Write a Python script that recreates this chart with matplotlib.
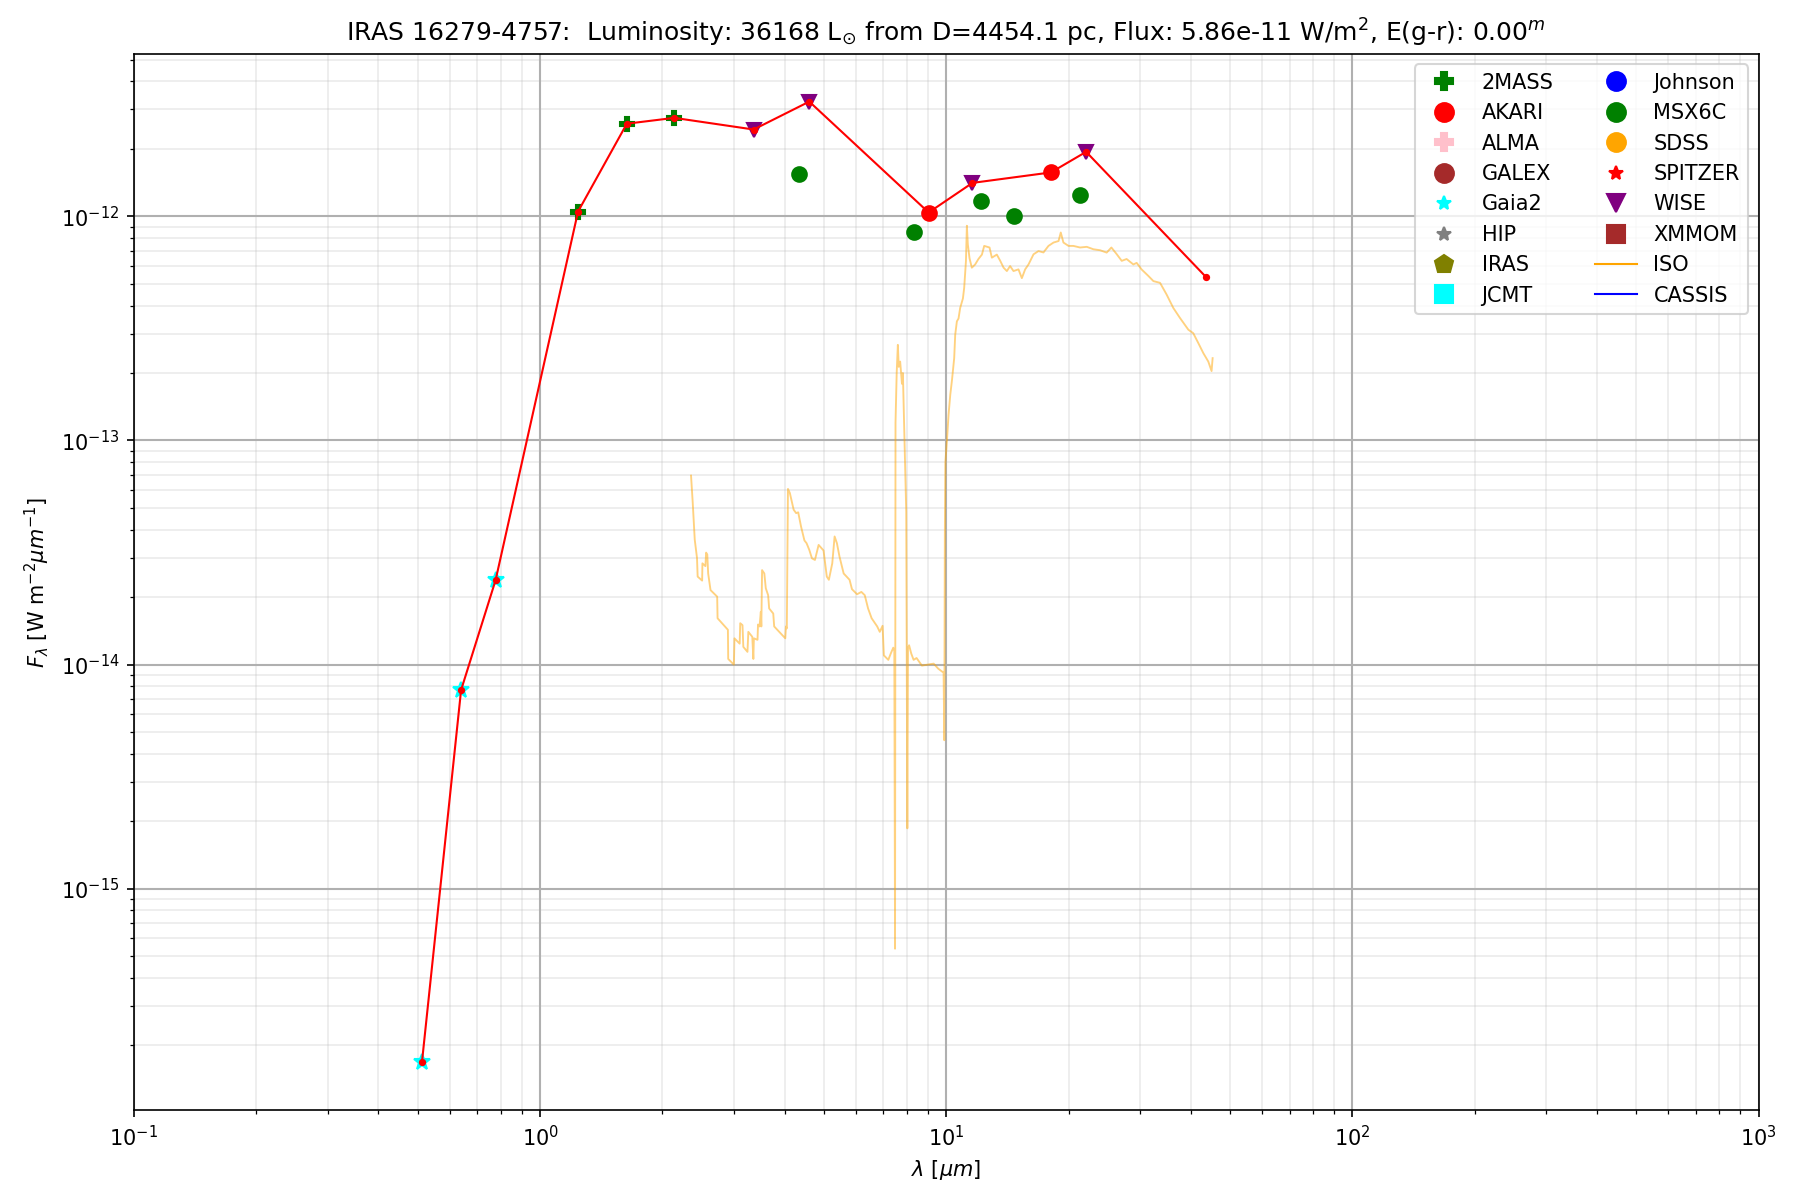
import matplotlib
matplotlib.use("Agg")
import matplotlib.pyplot as plt
from matplotlib.lines import Line2D

# ---------------- data ----------------
gaia_wave = [0.512, 0.639, 0.777]
gaia_flux = [1.69e-16, 7.7e-15, 2.38e-14]

tmass_wave = [1.24, 1.635, 2.14]
tmass_flux = [1.05e-12, 2.59e-12, 2.75e-12]

wise_wave = [3.355, 4.60, 11.6, 22.1]
wise_flux = [2.44e-12, 3.25e-12, 1.41e-12, 1.94e-12]

akari_wave = [9.05, 18.1]
akari_flux = [1.04e-12, 1.57e-12]

msx_wave = [4.33, 8.31, 12.15, 14.7, 21.4]
msx_flux = [1.55e-12, 8.5e-13, 1.17e-12, 1.0e-12, 1.24e-12]

sed_wave = [0.512, 0.639, 0.777, 1.24, 1.635, 2.14, 3.355, 4.60, 9.05, 11.6, 18.1, 22.1, 43.6]
sed_flux = [1.69e-16, 7.7e-15, 2.38e-14, 1.05e-12, 2.59e-12, 2.75e-12, 2.44e-12, 3.25e-12,
            1.04e-12, 1.41e-12, 1.57e-12, 1.94e-12, 5.36e-13]

iso_wave = [2.353, 2.376, 2.403, 2.434, 2.443, 2.506, 2.51, 2.553, 2.563, 2.58, 2.593, 2.628,
            2.729, 2.735, 2.90, 2.905, 3.00, 3.01, 3.10, 3.11, 3.15, 3.165, 3.24, 3.256, 3.33,
            3.35, 3.36, 3.43, 3.44, 3.47, 3.495, 3.505, 3.52, 3.565, 3.595, 3.643, 3.664, 3.75,
            3.77, 4.015, 4.03, 4.05, 4.076, 4.12, 4.21, 4.27, 4.32, 4.39, 4.475, 4.53, 4.60,
            4.67, 4.75, 4.85, 4.987, 5.08, 5.14, 5.24, 5.31, 5.38, 5.46, 5.59, 5.78, 5.86, 6.03,
            6.18, 6.30, 6.42, 6.55, 6.76, 6.86, 6.97, 7.02, 7.20, 7.30, 7.405, 7.45, 7.48, 7.50,
            7.55, 7.60, 7.64, 7.70, 7.78, 7.82, 7.95, 7.97, 8.02, 8.05, 8.10, 8.20, 8.31, 8.45,
            8.71, 9.0, 9.31, 9.55, 9.85, 9.89, 9.92, 9.95, 10.04, 10.13, 10.23, 10.33, 10.46,
            10.52, 10.62, 10.72, 10.82, 10.99, 11.07, 11.18, 11.24, 11.30, 11.41, 11.56, 11.78,
            12.0, 12.24, 12.4, 12.78, 12.95, 13.32, 13.58, 13.84, 14.1, 14.36, 14.64, 15.06,
            15.35, 15.64, 15.94, 16.4, 16.87, 17.35, 17.85, 18.37, 18.9, 19.14, 19.43, 20.0,
            20.56, 21.35, 22.18, 23.03, 23.91, 24.83, 25.5, 26.28, 27.04, 27.8, 28.88, 29.43,
            30.28, 31.45, 32.36, 33.6, 34.87, 36.23, 37.62, 39.45, 40.56, 41.74, 42.96, 44.17,
            45.0, 45.27]
iso_flux = [6.97e-14, 5.26e-14, 3.61e-14, 2.99e-14, 2.47e-14, 2.37e-14, 2.83e-14, 2.75e-14,
            3.16e-14, 3.10e-14, 2.55e-14, 2.15e-14, 2.01e-14, 1.61e-14, 1.43e-14, 1.06e-14,
            1.00e-14, 1.31e-14, 1.24e-14, 1.53e-14, 1.50e-14, 1.20e-14, 1.14e-14, 1.40e-14,
            1.33e-14, 1.06e-14, 1.31e-14, 1.29e-14, 1.51e-14, 1.48e-14, 1.72e-14, 1.48e-14,
            2.64e-14, 2.55e-14, 2.19e-14, 2.04e-14, 1.78e-14, 1.69e-14, 1.48e-14, 1.31e-14,
            1.48e-14, 1.45e-14, 6.08e-14, 5.83e-14, 4.91e-14, 4.74e-14, 4.78e-14, 4.13e-14,
            3.58e-14, 3.48e-14, 3.25e-14, 2.98e-14, 2.93e-14, 3.42e-14, 3.23e-14, 2.47e-14,
            2.39e-14, 2.83e-14, 3.73e-14, 3.48e-14, 3.03e-14, 2.55e-14, 2.39e-14, 2.17e-14,
            2.06e-14, 2.11e-14, 2.04e-14, 1.78e-14, 1.61e-14, 1.48e-14, 1.40e-14, 1.49e-14,
            1.10e-14, 1.05e-14, 1.12e-14, 1.19e-14, 1.15e-14, 5.4e-16, 1.2e-13, 2.0e-13,
            2.67e-13, 2.13e-13, 2.25e-13, 1.79e-13, 2.0e-13, 5.6e-14, 4.8e-14, 1.86e-15,
            1.18e-14, 1.22e-14, 1.12e-14, 1.05e-14, 1.07e-14, 9.9e-15, 1.0e-14, 1.01e-14,
            9.6e-15, 9.2e-15, 4.6e-15, 3.8e-14, 8.0e-14, 1.0e-13, 1.3e-13, 1.6e-13, 1.86e-13,
            2.33e-13, 2.96e-13, 3.4e-13, 3.5e-13, 3.9e-13, 4.3e-13, 4.8e-13, 6.3e-13, 9.08e-13,
            7.5e-13, 6.5e-13, 5.9e-13, 6.1e-13, 6.45e-13, 6.75e-13, 7.38e-13, 7.26e-13,
            6.54e-13, 6.75e-13, 6.33e-13, 5.9e-13, 5.7e-13, 6.0e-13, 5.7e-13, 5.8e-13, 5.3e-13,
            5.8e-13, 6.1e-13, 6.77e-13, 7.0e-13, 6.9e-13, 7.38e-13, 7.64e-13, 7.76e-13,
            8.47e-13, 7.64e-13, 7.38e-13, 7.38e-13, 7.26e-13, 7.31e-13, 7.13e-13, 7.06e-13,
            6.89e-13, 7.26e-13, 6.78e-13, 6.33e-13, 6.45e-13, 6.1e-13, 6.2e-13, 5.79e-13,
            5.42e-13, 5.14e-13, 5.05e-13, 4.48e-13, 3.9e-13, 3.52e-13, 3.12e-13, 3.01e-13,
            2.72e-13, 2.45e-13, 2.25e-13, 2.04e-13, 2.33e-13]

title = (r'IRAS 16279-4757:  Luminosity: 36168 L$_{\odot}$ from D=4454.1 pc, '
         r'Flux: 5.86e-11 W/m$^2$, E(g-r): 0.00$^m$')

# ---------------- plot ----------------
fig = plt.figure(figsize=(12, 8), dpi=150)
ax = fig.add_axes([0.0744, 0.075, 0.9026, 0.880])
ax.set_xscale('log')
ax.set_yscale('log')

ax.grid(True, which='major', color='#b0b0b0', linewidth=1.0)
ax.grid(True, which='minor', color='#b0b0b0', linewidth=0.8, alpha=0.25)
ax.set_axisbelow(True)

ax.plot(iso_wave, iso_flux, color='orange', alpha=0.5, linewidth=0.9)

ax.plot(gaia_wave, gaia_flux, linestyle='None', marker='*', color='cyan', markersize=8)
ax.plot(tmass_wave, tmass_flux, linestyle='None', marker='P', color='green', markersize=7)
ax.plot(wise_wave, wise_flux, linestyle='None', marker='v', color='purple', markersize=7)
ax.plot(akari_wave, akari_flux, linestyle='None', marker='o', color='red', markersize=7)
ax.plot(msx_wave, msx_flux, linestyle='None', marker='o', color='green', markersize=7)

ax.plot(sed_wave, sed_flux, color='red', linewidth=1.0, marker='o', markersize=2.5)

ax.set_xlim(0.1, 1000)
ax.set_ylim(1.03e-16, 5.3e-12)

ax.set_title(title)
ax.set_xlabel(r'$\lambda$ [$\mu m$]')
ax.set_ylabel(r'$F_{\lambda}$ [W m$^{-2}\mu m^{-1}$]')

handles = [
    Line2D([], [], linestyle='None', marker='P', color='green', markersize=9, label='2MASS'),
    Line2D([], [], linestyle='None', marker='o', color='red', markersize=9, label='AKARI'),
    Line2D([], [], linestyle='None', marker='P', color='pink', markersize=9, label='ALMA'),
    Line2D([], [], linestyle='None', marker='o', color='brown', markersize=9, label='GALEX'),
    Line2D([], [], linestyle='None', marker='*', color='cyan', markersize=7, label='Gaia2'),
    Line2D([], [], linestyle='None', marker='*', color='grey', markersize=7, label='HIP'),
    Line2D([], [], linestyle='None', marker='p', color='olive', markersize=9, label='IRAS'),
    Line2D([], [], linestyle='None', marker='s', color='cyan', markersize=9, label='JCMT'),
    Line2D([], [], linestyle='None', marker='o', color='blue', markersize=9, label='Johnson'),
    Line2D([], [], linestyle='None', marker='o', color='green', markersize=9, label='MSX6C'),
    Line2D([], [], linestyle='None', marker='o', color='orange', markersize=9, label='SDSS'),
    Line2D([], [], linestyle='None', marker='*', color='red', markersize=7, label='SPITZER'),
    Line2D([], [], linestyle='None', marker='v', color='purple', markersize=9, label='WISE'),
    Line2D([], [], linestyle='None', marker='s', color='brown', markersize=9, label='XMMOM'),
    Line2D([], [], color='orange', linewidth=1.0, label='ISO'),
    Line2D([], [], color='blue', linewidth=1.0, label='CASSIS'),
]
ax.legend(handles=handles, loc='upper right', ncol=2, fontsize=10)

fig.savefig('out.png', dpi=150)
